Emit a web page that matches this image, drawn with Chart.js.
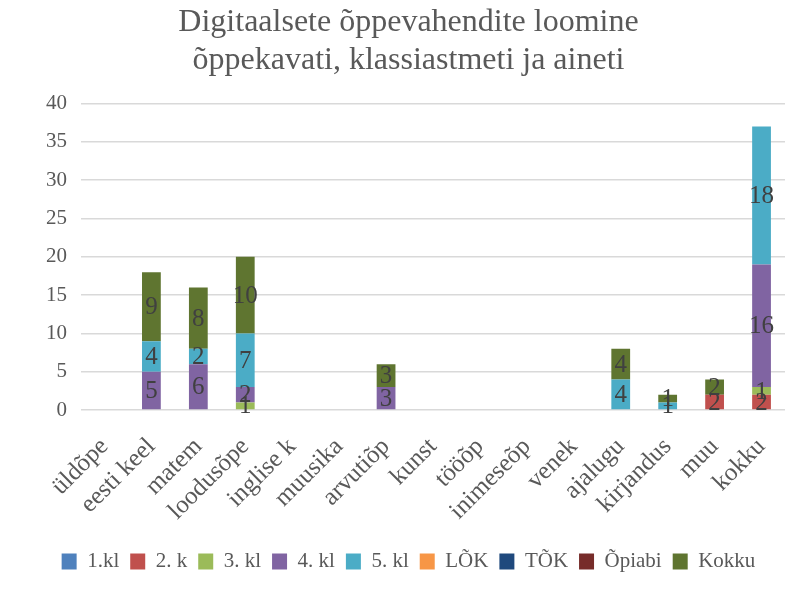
<!DOCTYPE html>
<html>
<head>
<meta charset="utf-8">
<script src="https://cdn.jsdelivr.net/npm/chart.js@4"></script>
<style>
  html, body { margin: 0; padding: 0; background: #fff; }
  #wrap { width: 801px; height: 600px; }
</style>
</head>
<body>
<div id="wrap"><canvas id="chart" width="801" height="600"></canvas></div>
<script>
const categories = ['üldõpe', 'eesti keel', 'matem', 'loodusõpe', 'inglise k', 'muusika', 'arvutiõp', 'kunst', 'tööõp', 'inimeseõp', 'venek', 'ajalugu', 'kirjandus', 'muu', 'kokku'];

const kl1 =    [null, null, null, null, null, null, null, null, null, null, null, null, null, null, null];
const kl2 =    [null, null, null, null, null, null, null, null, null, null, null, null, null, 2, 2];
const kl3 =    [null, null, null, 1, null, null, null, null, null, null, null, null, null, null, 1];
const kl4 =    [null, 5, 6, 2, null, null, 3, null, null, null, null, null, null, null, 16];
const kl5 =    [null, 4, 2, 7, null, null, null, null, null, null, null, 4, 1, null, 18];
const lok =    [null, null, null, null, null, null, null, null, null, null, null, null, null, null, null];
const tok =    [null, null, null, null, null, null, null, null, null, null, null, null, null, null, null];
const opiabi = [null, null, null, null, null, null, null, null, null, null, null, null, null, null, null];
const kokku =  [null, 9, 8, 10, null, null, 3, null, null, null, null, 4, 1, 2, null];

const seriesNames = ['1.kl', '2. k', '3. kl', '4. kl', '5. kl', 'LÕK', 'TÕK', 'Õpiabi', 'Kokku'];
const seriesData = [kl1, kl2, kl3, kl4, kl5, lok, tok, opiabi, kokku];
const seriesColors = ['#4F81BD', '#C0504D', '#9BBB59', '#8064A2', '#4BACC6', '#F79646', '#1F497D', '#772C2A', '#5F7530'];

const yTicks = [0, 5, 10, 15, 20, 25, 30, 35, 40];

const fontFam = "'Liberation Serif', 'DejaVu Serif', serif";

// draws the value in the middle of each segment
const valueLabels = {
  id: 'valueLabels',
  afterDatasetsDraw(chart) {
    const ctx = chart.ctx;
    ctx.save();
    ctx.fillStyle = '#404040';
    ctx.font = '25px ' + fontFam;
    ctx.textAlign = 'center';
    ctx.textBaseline = 'middle';
    chart.data.datasets.forEach((ds, i) => {
      const meta = chart.getDatasetMeta(i);
      meta.data.forEach((bar, j) => {
        const v = ds.data[j];
        if (v == null || v === 0) return;
        const p = bar.getProps(['x', 'y', 'base'], true);
        ctx.fillText(String(v), p.x, (p.y + p.base) / 2 + 1);
      });
    });
    ctx.restore();
  }
};

new Chart(document.getElementById('chart'), {
  type: 'bar',
  data: {
    labels: categories,
    datasets: seriesNames.map((name, i) => ({
      label: name,
      data: seriesData[i],
      backgroundColor: seriesColors[i],
      borderWidth: 0,
      barPercentage: 0.4,
      categoryPercentage: 1
    }))
  },
  options: {
    responsive: false,
    animation: false,
    layout: { padding: { left: 32, right: 16, top: 4, bottom: 18 } },
    plugins: {
      title: {
        display: true,
        text: ['Digitaalsete õppevahendite loomine', 'õppekavati, klassiastmeti ja aineti'],
        color: '#595959',
        font: { family: fontFam, size: 32, weight: 'normal', lineHeight: 1.18 },
        padding: { top: 0, bottom: 24 }
      },
      legend: {
        position: 'bottom',
        labels: {
          boxWidth: 15,
          boxHeight: 16,
          padding: 11,
          color: '#595959',
          font: { family: fontFam, size: 21 }
        }
      },
      tooltip: { enabled: false }
    },
    scales: {
      x: {
        stacked: true,
        grid: { display: false },
        border: { display: false },
        ticks: {
          color: '#595959',
          minRotation: 45,
          maxRotation: 45,
          autoSkip: false,
          padding: 14,
          font: { family: fontFam, size: 25 }
        }
      },
      y: {
        stacked: true,
        min: 0,
        max: 40,
        afterBuildTicks(axis) { axis.ticks = yTicks.map(v => ({ value: v })); },
        grid: { color: '#D9D9D9', lineWidth: 1.5, drawTicks: false },
        border: { display: false },
        ticks: {
          color: '#595959',
          padding: 14,
          font: { family: fontFam, size: 21 }
        }
      }
    }
  },
  plugins: [valueLabels]
});
</script>
</body>
</html>
